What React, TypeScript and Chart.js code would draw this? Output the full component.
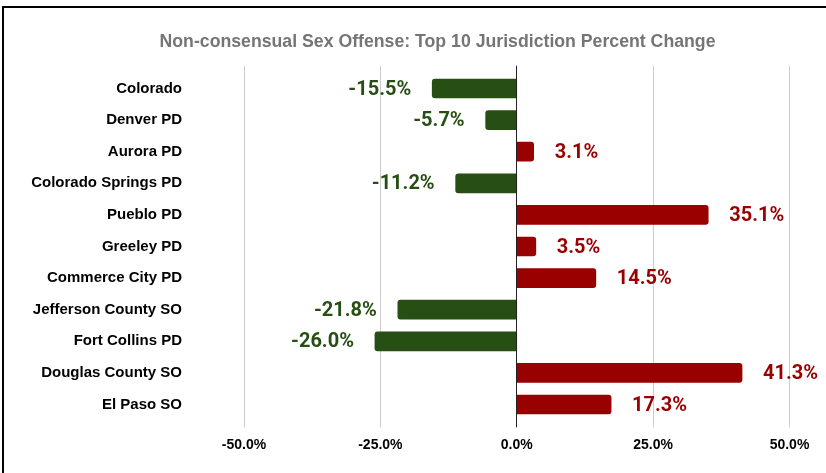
import React, { useEffect, useRef } from "react";
import { Chart, registerables } from "chart.js";

Chart.register(...registerables);

const TITLE = "Non-consensual Sex Offense: Top 10 Jurisdiction Percent Change";
const categories = [
  "Colorado",
  "Denver PD",
  "Aurora PD",
  "Colorado Springs PD",
  "Pueblo PD",
  "Greeley PD",
  "Commerce City PD",
  "Jefferson County SO",
  "Fort Collins PD",
  "Douglas County SO",
  "El Paso SO",
];
const percentChange = [-15.5, -5.7, 3.1, -11.2, 35.1, 3.5, 14.5, -21.8, -26.0, 41.3, 17.3];
const xTicks = [-50, -25, 0, 25, 50];

const GREEN = "#274e13";
const RED = "#990000";

export default function App() {
  const ref = useRef<HTMLCanvasElement | null>(null);

  useEffect(() => {
    const canvas = ref.current;
    if (!canvas) return;

    const decor = {
      id: "decor",
      beforeDatasetsDraw(chart: any) {
        const { ctx, chartArea, scales } = chart;
        const xs = scales.x;
        ctx.save();
        ctx.lineWidth = 1;
        ctx.strokeStyle = "#cccccc";
        xTicks.forEach((v) => {
          if (v === 0) return;
          const x = Math.floor(xs.getPixelForValue(v)) + 0.5;
          ctx.beginPath();
          ctx.moveTo(x, chartArea.top - 7);
          ctx.lineTo(x, chartArea.bottom + 7);
          ctx.stroke();
        });
        // title
        ctx.fillStyle = "#757575";
        ctx.font = "bold 17.7px 'Liberation Sans', Arial, sans-serif";
        ctx.textAlign = "center";
        ctx.textBaseline = "middle";
        ctx.fillText(TITLE, 437.5, 42);
        ctx.restore();
      },
      afterDatasetsDraw(chart: any) {
        const { ctx, chartArea, scales } = chart;
        const xs = scales.x;
        ctx.save();
        const x0 = Math.floor(xs.getPixelForValue(0)) + 0.5;
        ctx.strokeStyle = "#222222";
        ctx.lineWidth = 1;
        ctx.beginPath();
        ctx.moveTo(x0, chartArea.top - 7);
        ctx.lineTo(x0, chartArea.bottom + 7);
        ctx.stroke();

        const meta = chart.getDatasetMeta(0);
        ctx.font = "bold 20px Roboto, sans-serif";
        ctx.textBaseline = "middle";
        meta.data.forEach((el: any, i: number) => {
          const v = percentChange[i];
          const txt = v.toFixed(1) + "%";
          if (v >= 0) {
            ctx.fillStyle = RED;
            ctx.textAlign = "left";
            ctx.fillText(txt, el.x + 21, el.y + 1);
          } else {
            ctx.fillStyle = GREEN;
            ctx.textAlign = "right";
            ctx.fillText(txt, el.x - 21, el.y + 1);
          }
        });
        ctx.restore();
      },
    };

    const chart = new Chart(canvas, {
      type: "bar",
      data: {
        labels: categories,
        datasets: [
          {
            data: percentChange,
            backgroundColor: percentChange.map((v) => (v >= 0 ? RED : GREEN)),
            borderRadius: 3,
            borderSkipped: "start",
            barThickness: 19,
          },
        ],
      },
      options: {
        indexAxis: "y",
        animation: false,
        responsive: false,
        maintainAspectRatio: false,
        layout: { padding: { top: 72.7, right: 36.5, left: 0, bottom: 0 } },
        plugins: {
          legend: { display: false },
          title: { display: false },
          tooltip: { enabled: false },
        },
        scales: {
          x: {
            type: "linear",
            min: -50,
            max: 50,
            afterBuildTicks(scale: any) {
              scale.ticks = xTicks.map((v) => ({ value: v }));
            },
            afterFit(scale: any) {
              scale.height = 52.7;
              scale.paddingLeft = 0;
              scale.paddingRight = 0;
            },
            grid: { display: false, drawTicks: false },
            border: { display: false },
            ticks: {
              padding: 16,
              color: "#000000",
              font: { family: "'Liberation Sans', Arial, sans-serif", size: 14, weight: "bold" },
              callback: (v: any) => Number(v).toFixed(1) + "%",
            },
          },
          y: {
            type: "category",
            offset: true,
            afterFit(scale: any) {
              scale.width = 244;
              scale.paddingTop = 0;
              scale.paddingBottom = 0;
            },
            grid: { display: false, drawTicks: false },
            border: { display: false },
            ticks: {
              padding: 62,
              color: "#000000",
              font: { family: "'Liberation Sans', Arial, sans-serif", size: 15, weight: "bold" },
            },
          },
        },
      },
      plugins: [decor],
    } as any);

    return () => chart.destroy();
  }, []);

  return (
    <div style={{ position: "fixed", left: 0, top: 0, width: 826, height: 473, background: "#ffffff", overflow: "hidden" }}>
      <canvas ref={ref} width={826} height={473} style={{ position: "absolute", left: 0, top: 0, width: 826, height: 473 }} />
      <div
        style={{
          position: "absolute",
          left: 2,
          top: 6,
          width: 900,
          height: 600,
          borderLeft: "2px solid #000",
          borderTop: "2px solid #000",
          pointerEvents: "none",
        }}
      />
    </div>
  );
}
